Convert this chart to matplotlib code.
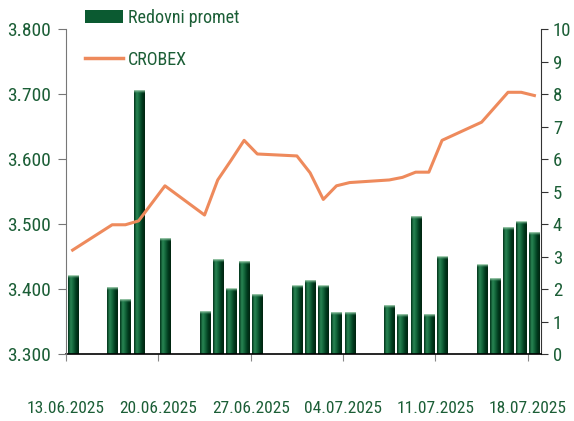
import numpy as np
import pandas as pd
import matplotlib
matplotlib.use('Agg')
import matplotlib.pyplot as plt
import matplotlib.dates as mdates
from matplotlib import font_manager
from matplotlib.colors import LinearSegmentedColormap
from matplotlib.patches import Patch
from matplotlib.lines import Line2D
from matplotlib.ticker import FuncFormatter

# reference uses a narrow font; take one if installed, otherwise a smaller Liberation Sans
installed = {f.name for f in font_manager.fontManager.ttflist}
narrow = [n for n in ['Liberation Sans Narrow', 'DejaVu Sans Condensed', 'Roboto Condensed',
                      'Open Sans Condensed', 'Noto Sans Condensed', 'Arial Narrow'] if n in installed]
if narrow:
    plt.rcParams['font.family'] = [narrow[0], 'DejaVu Sans']
    fs_x, fs_y, fs_r, fs_leg = 12.5, 14, 13.5, 13
else:
    plt.rcParams['font.family'] = ['Liberation Sans', 'DejaVu Sans']
    fs_x, fs_y, fs_r, fs_leg = 11, 11.5, 11.5, 11

# data
dates = ['13.06.2025', '16.06.2025', '17.06.2025', '18.06.2025', '20.06.2025',
         '23.06.2025', '24.06.2025', '25.06.2025', '26.06.2025', '27.06.2025',
         '30.06.2025', '01.07.2025', '02.07.2025', '03.07.2025', '04.07.2025',
         '07.07.2025', '08.07.2025', '09.07.2025', '10.07.2025', '11.07.2025',
         '14.07.2025', '15.07.2025', '16.07.2025', '17.07.2025', '18.07.2025']
promet = [2.4, 2.05, 1.68, 8.1, 3.56, 1.3, 2.9, 2.0, 2.84, 1.82,
          2.09, 2.25, 2.09, 1.28, 1.28, 1.48, 1.21, 4.23, 1.21, 2.98,
          2.74, 2.31, 3.9, 4.06, 3.74]
crobex = [3460, 3499, 3499, 3505, 3559, 3514, 3568, 3598, 3629, 3608,
          3605, 3579, 3538, 3559, 3564, 3568, 3572, 3580, 3580, 3629,
          3657, 3680, 3703, 3703, 3698]
tick_dates = ['13.06.2025', '20.06.2025', '27.06.2025', '04.07.2025', '11.07.2025', '18.07.2025']

green_txt = '#1b5e36'
line_col = '#ee8a5c'

d = mdates.date2num(pd.to_datetime(dates, format='%d.%m.%Y'))
xc = d + 0.5
ticks = mdates.date2num(pd.to_datetime(tick_dates, format='%d.%m.%Y'))

fig = plt.figure(figsize=(5.74, 4.21), dpi=100)
ax = fig.add_axes([66/574, 1-354/421, 475/574, (354-29.3)/421])
ax2 = ax.twinx()

# bars (right axis) with cylinder-like shading
cmap = LinearSegmentedColormap.from_list('cyl', ['#00331a', '#2a8654', '#126439', '#00391d', '#00240f'])
capmap = LinearSegmentedColormap.from_list('cap', ['#17704200', '#a9d2b6'])
grad = np.linspace(0, 1, 64).reshape(1, -1)
w = 0.76
for x, v in zip(xc, promet):
    ax.imshow(grad, cmap=cmap, aspect='auto', extent=(x - w/2, x + w/2, 0, v),
              interpolation='bilinear', zorder=2)
    ax.imshow(np.linspace(0, 1, 8).reshape(-1, 1), cmap=capmap, origin='lower',
              aspect='auto', extent=(x - w/2, x + w/2, v - 0.1, v), interpolation='bilinear', zorder=3)

ax.set_xlim(ticks[0], ticks[0] + 36)
ax.set_ylim(0, 10)
ax.set_yticks(range(0, 11))
ax.yaxis.tick_right()
ax.yaxis.set_label_position('right')

# CROBEX (left axis)
ax2.plot(xc, crobex, color=line_col, lw=2.2, zorder=5)
ax2.set_ylim(3300, 3800)
ax2.set_yticks([3300, 3400, 3500, 3600, 3700, 3800])
ax2.yaxis.tick_left()
ax2.yaxis.set_major_formatter(FuncFormatter(lambda v, p: f'{v/1000:.3f}'))

ax.set_xticks(ticks)
ax.set_xticklabels(tick_dates)

for a in (ax, ax2):
    a.spines['top'].set_visible(False)
    a.patch.set_visible(False)
ax.spines['left'].set_visible(False)
ax.spines['right'].set_color('#333333')
ax.spines['bottom'].set_color('black')
ax.spines['bottom'].set_linewidth(1.2)
ax2.spines['right'].set_visible(False)
ax2.spines['bottom'].set_visible(False)
ax2.spines['left'].set_color('#777777')

ax.tick_params(axis='x', length=5, color='#888888', pad=29, labelsize=fs_x, labelcolor=green_txt)
ax.tick_params(axis='y', length=5, color='#333333', pad=3.5, labelsize=fs_r, labelcolor=green_txt)
ax2.tick_params(axis='y', length=6, color='#777777', pad=5, labelsize=fs_y, labelcolor=green_txt)

fpx = fs_leg * 100 / 72
handles = [Patch(facecolor='#0b5a31', edgecolor='none'),
           Line2D([], [], color=line_col, lw=2.5)]
leg = fig.legend(handles, ['Redovni promet', 'CROBEX'], loc='upper left',
                 bbox_to_anchor=(85/574, 1 - 9/421), frameon=False, fontsize=fs_leg,
                 borderpad=0, borderaxespad=0,
                 handlelength=38/fpx, handleheight=0.75, handletextpad=0.25,
                 labelspacing=(42 - fpx)/fpx)
for t in leg.get_texts():
    t.set_color(green_txt)

fig.savefig('out.png', dpi=100)
